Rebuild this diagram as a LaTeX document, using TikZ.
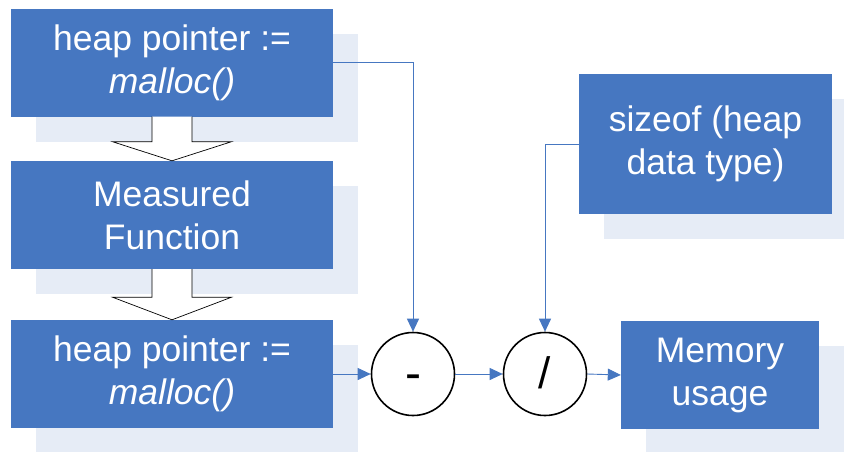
\documentclass[tikz,border=0pt]{standalone}
\usepackage{fontspec}
\setmainfont{Liberation Sans}
\usetikzlibrary{arrows.meta,shadows,calc}
\definecolor{boxblue}{HTML}{4677C1}
\definecolor{shadowc}{HTML}{E6ECF6}
\tikzset{
  bluebox/.style={rectangle, fill=boxblue, text=white, align=center, inner sep=0pt,
    font=\fontsize{35.5}{43}\selectfont,
    drop shadow={shadow xshift=25pt, shadow yshift=-25pt, fill=shadowc, opacity=1}},
  opnode/.style={circle, draw=black, line width=1.6pt, fill=white, minimum size=83pt, inner sep=0pt,
    text height=28pt, text depth=0pt, font=\fontsize{44}{50}\selectfont},
  conn/.style={draw=boxblue, line width=0.9pt, -{Triangle[length=13pt,width=12pt]}},
  blockarrow/.style={draw=black, line width=0.7pt, fill=white},
}
\begin{document}
\begin{tikzpicture}[x=1pt,y=-1pt]
\useasboundingbox (0,0) rectangle (844,451);
\node[bluebox, minimum width=322pt, minimum height=108pt] (b1) at (172,62.5) {heap pointer :=\\\textit{malloc()}};
\node[bluebox, minimum width=322pt, minimum height=108pt] (b2) at (172,215) {Measured\\Function};
\node[bluebox, minimum width=322pt, minimum height=108pt] (b3) at (172,374) {heap pointer :=\\\textit{malloc()}};
\node[bluebox, minimum width=253pt, minimum height=140pt] (sz) at (705.5,144) {sizeof (heap\\data type)};
\node[bluebox, minimum width=198pt, minimum height=108pt] (mem) at (720,375) {Memory\\usage};
\node[opnode, text height=30pt, font=\fontsize{48}{50}\selectfont] (minus) at (413,374) {-};
\node[opnode] (div) at (545,374) {/};
% block arrows
\draw[blockarrow] ($(b1.south)+(-20,0)$) -- ++(0,25) -- ++(-39.5,0) -- (b2.north)
  -- ($(b1.south)+(59.5,25)$) -- ++(-39.5,0) -- ($(b1.south)+(20,0)$);
\draw[blockarrow] ($(b2.south)+(-20,0)$) -- ++(0,28) -- ++(-39.5,0) -- (b3.north)
  -- ($(b2.south)+(59.5,28)$) -- ++(-39.5,0) -- ($(b2.south)+(20,0)$);
% connectors
\draw[conn] (b1.east) -| (minus.north);
\draw[conn] (sz.west) -| (div.north);
\draw[conn] (b3.east) -- (minus.west);
\draw[conn] (minus.east) -- (div.west);
\draw[conn] (div.east) -- (mem.west);
\end{tikzpicture}
\end{document}
